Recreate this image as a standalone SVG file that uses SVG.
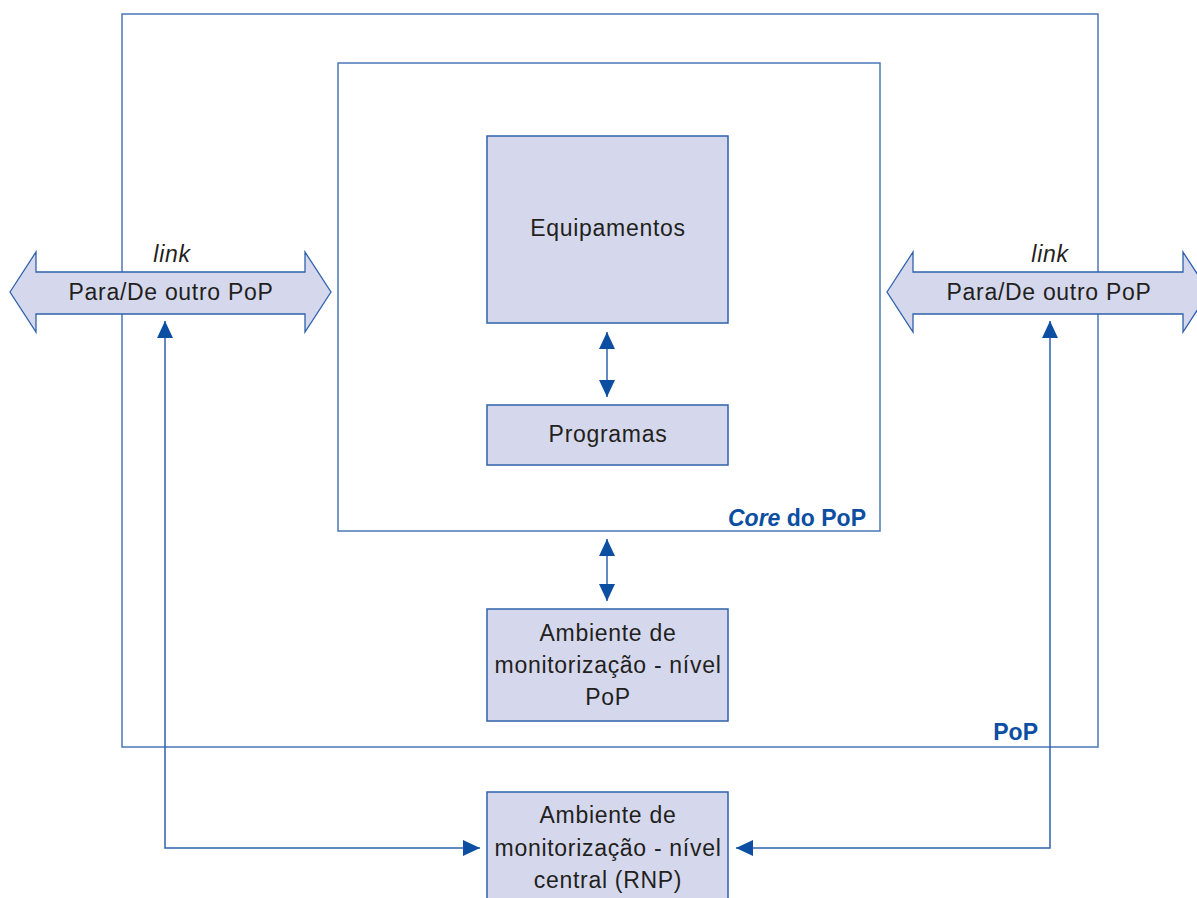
<svg xmlns="http://www.w3.org/2000/svg" width="1197" height="898" viewBox="0 0 1197 898">
<style>
.frame{fill:none;stroke:#4a78b8;stroke-width:1.5}
.box{fill:#d5d8ec;stroke:#2f62ac;stroke-width:1.5}
.big{fill:#d5d8ec;stroke:#2f62ac;stroke-width:1.3}
.t{font-family:"Liberation Sans",Arial,sans-serif;font-size:23px;letter-spacing:0.7px;fill:#231f20;text-anchor:middle}
.lab{font-family:"Liberation Sans",Arial,sans-serif;font-size:23px;font-weight:bold;fill:#0b4ea2;text-anchor:end}
.conn{fill:none;stroke:#2f62ac;stroke-width:1.5}
</style>
<defs>
<marker id="ah" viewBox="0 0 17 16" refX="17" refY="8" markerWidth="17" markerHeight="16" markerUnits="userSpaceOnUse" orient="auto-start-reverse">
<path d="M0,0 L17,8 L0,16 Z" fill="#0b4ea2"/>
</marker>
</defs>
<g id="pop-frame">
<rect class="frame" x="122" y="14" width="976" height="733"/>
<text class="lab" x="1038" y="740">PoP</text>
</g>
<g id="core-frame">
<rect class="frame" x="338" y="63" width="542" height="468"/>
<text class="lab" x="866" y="526"><tspan font-style="italic">Core</tspan> do PoP</text>
</g>
<g id="equipamentos">
<rect class="box" x="487" y="136" width="241" height="187"/>
<text class="t" x="608" y="236">Equipamentos</text>
</g>
<g id="programas">
<rect class="box" x="487" y="405" width="241" height="60"/>
<text class="t" x="608" y="442">Programas</text>
</g>
<g id="ambiente-pop">
<rect class="box" x="487" y="609" width="241" height="112"/>
<text class="t" x="608" y="641">Ambiente de</text>
<text class="t" x="608" y="673">monitorização - nível</text>
<text class="t" x="608" y="705">PoP</text>
</g>
<g id="ambiente-central">
<rect class="box" x="487" y="792" width="241" height="110"/>
<text class="t" x="608" y="823">Ambiente de</text>
<text class="t" x="608" y="856">monitorização - nível</text>
<text class="t" x="608" y="888">central (RNP)</text>
</g>
<g id="link-left">
<polygon class="big" points="10,292 36,252 36,272 305,272 305,252 331,292 305,332 305,314 36,314 36,332"/>
<text class="t" x="171" y="300">Para/De outro PoP</text>
<text class="t" x="172" y="262" font-style="italic">link</text>
</g>
<g id="link-right">
<polygon class="big" points="887,292 913,252 913,272 1183,272 1183,252 1209,292 1183,332 1183,314 913,314 913,332"/>
<text class="t" x="1049" y="300">Para/De outro PoP</text>
<text class="t" x="1050" y="262" font-style="italic">link</text>
</g>
<g id="connectors">
<line class="conn" x1="607" y1="332" x2="607" y2="397" marker-start="url(#ah)" marker-end="url(#ah)"/>
<line class="conn" x1="607" y1="539" x2="607" y2="601" marker-start="url(#ah)" marker-end="url(#ah)"/>
<polyline class="conn" points="165,321 165,848 480,848" marker-start="url(#ah)" marker-end="url(#ah)"/>
<polyline class="conn" points="1050,321 1050,848 736,848" marker-start="url(#ah)" marker-end="url(#ah)"/>
</g>
</svg>
